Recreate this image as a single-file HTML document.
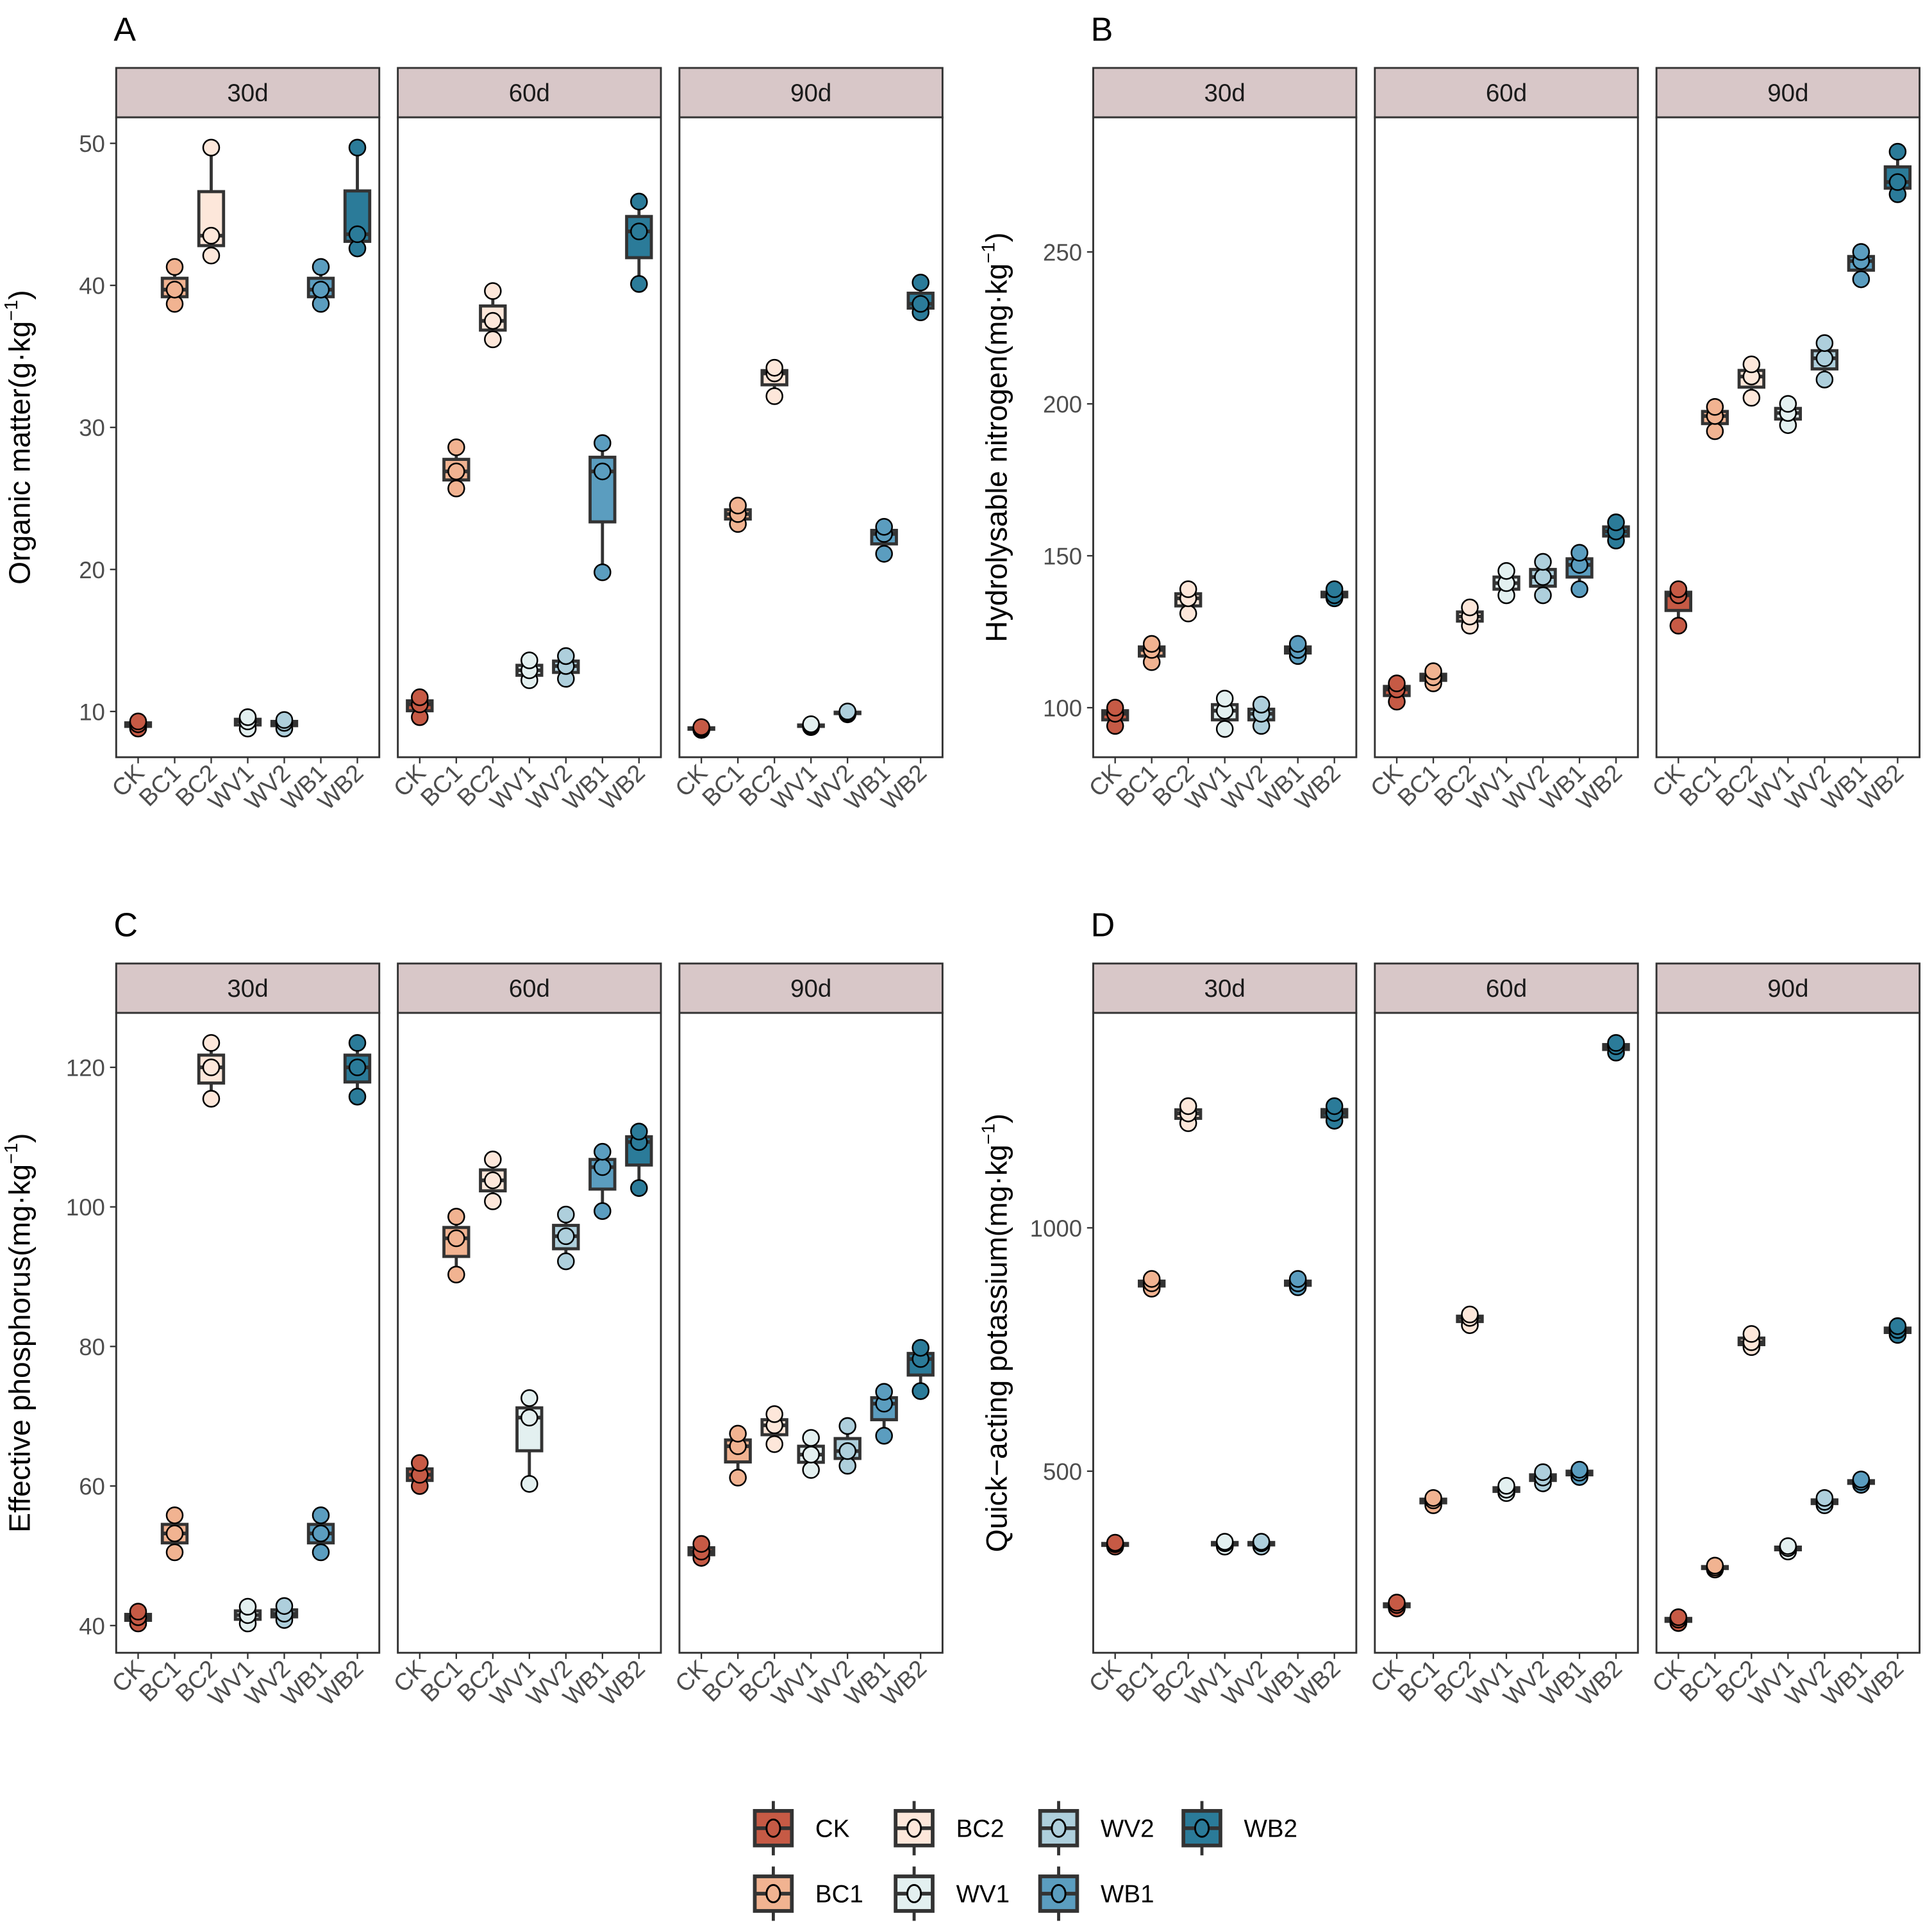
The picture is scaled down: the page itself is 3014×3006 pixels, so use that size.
<!DOCTYPE html>
<html><head><meta charset="utf-8"><style>
html,body{margin:0;padding:0;background:#fff}
svg{display:block}
text{font-family:"Liberation Sans",Arial,sans-serif}
</style></head><body>
<svg id="fig" width="3014" height="3006" viewBox="0 0 1564 1560" xmlns="http://www.w3.org/2000/svg"></svg>
<script>
const groups=["CK","BC1","BC2","WV1","WV2","WB1","WB2"];
const days=["30d","60d","90d"];
const colors=["#c65a45","#f1b391","#fde7da","#e3f0f0","#aecfdc","#5b9dbf","#2b7b99"];
const dataA=[
 [[8.8,9.1,9.3],[38.7,39.7,41.3],[42.1,43.5,49.7],[8.8,9.3,9.6],[8.8,9.2,9.4],[38.7,39.7,41.3],[42.6,43.6,49.7]],
 [[9.6,10.5,11.0],[25.7,26.9,28.6],[36.2,37.5,39.6],[12.2,12.9,13.6],[12.3,13.2,13.9],[19.8,26.9,28.9],[40.1,43.8,45.9]],
 [[8.7,8.8,8.9],[23.2,23.9,24.5],[32.2,33.8,34.2],[8.9,9.0,9.1],[9.8,9.9,10.0],[21.1,22.5,23.0],[38.1,38.7,40.2]]];
const dataB=[
 [[94,98,100],[115,119,121],[131,136,139],[93,99,103],[94,98,101],[117,119,121],[136,137,139]],
 [[102,106,108],[108,110,112],[127,130,133],[137,141,145],[137,143,148],[139,147,151],[155,158,161]],
 [[127,137,139],[191,196,199],[202,209,213],[193,197,200],[208,215,220],[241,247,250],[269,273,283]]];
const dataC=[
 [[40.3,41.2,42],[50.5,53.2,55.8],[115.5,120,123.5],[40.3,41.5,42.7],[40.8,41.7,42.8],[50.5,53.2,55.8],[115.8,120,123.5]],
 [[60,61.6,63.3],[90.3,95.5,98.6],[100.8,103.8,106.8],[60.3,69.8,72.6],[92.2,95.8,98.9],[99.4,105.7,107.9],[102.7,109.3,110.8]],
 [[49.7,50.6,51.7],[61.2,65.7,67.5],[66,68.7,70.3],[62.3,64.5,66.9],[62.9,65,68.6],[67.2,71.8,73.5],[73.6,78.2,79.8]]];
const dataD=[
 [[345,350,353],[875,886,895],[1215,1235,1250],[345,352,355],[345,352,355],[878,886,895],[1220,1236,1250]],
 [[218,225,230],[430,440,445],[800,815,822],[455,462,470],[475,487,498],[488,497,503],[1360,1373,1380]],
 [[188,195,200],[298,302,306],[755,765,782],[335,342,346],[430,437,445],[472,478,483],[780,790,798]]];
const ticksA=[10,20,30,40,50], ticksB=[100,150,200,250], ticksC=[40,60,80,100,120], ticksD=[500,1000];

const NS="http://www.w3.org/2000/svg";
const svg=document.getElementById("fig");
function mk(tag,attrs,parent){const e=document.createElementNS(NS,tag);for(const k in attrs)e.setAttribute(k,attrs[k]);(parent||svg).appendChild(e);return e;}
function q(a,p){const s=[...a].sort((x,y)=>x-y);const h=(s.length-1)*p;const lo=Math.floor(h);return s[lo]+(s[Math.min(lo+1,s.length-1)]-s[lo])*(h-lo);}

const panels=[
 {id:"A",data:dataA,ticks:ticksA,ymin:6.78,ymax:51.83,title:"Organic matter(g·kg",xs:[94,322,550],top:55,letterX:94},
 {id:"B",data:dataB,ticks:ticksB,ymin:83.7,ymax:294.3,title:"Hydrolysable nitrogen(mg·kg",xs:[885,1113,1341],top:55,letterX:885},
 {id:"C",data:dataC,ticks:ticksC,ymin:36.1,ymax:127.8,title:"Effective phosphorus(mg·kg",xs:[94,322,550],top:780,letterX:94},
 {id:"D",data:dataD,ticks:ticksD,ymin:126.9,ymax:1441.6,title:"Quick−acting potassium(mg·kg",xs:[885,1113,1341],top:780,letterX:885}];
const PW=213, SH=40, PH=518;

panels.forEach(P=>{
  const g=mk("g",{});
  
  
  const pt=P.top+SH, pb=pt+PH;
  const yS=v=>pb-(v-P.ymin)/(P.ymax-P.ymin)*PH;
  const lt=mk("text",{x:P.letterX-2,y:P.top-22,"font-size":27,fill:"#000"},g);lt.textContent=P.id;
  
  
  const yt=mk("text",{transform:`translate(${P.xs[0]-70},${pt+PH/2}) rotate(-90)`,"text-anchor":"middle","font-size":24,fill:"#000"},g);
  yt.textContent=P.title;
  const sup=mk("tspan",{"font-size":15,dy:-10},yt);sup.textContent="−1";
  const cl=mk("tspan",{dy:10},yt);cl.textContent=")";
  
  
  P.ticks.forEach(t=>{
    const y=yS(t);
    mk("line",{x1:P.xs[0]-5,x2:P.xs[0],y1:y,y2:y,stroke:"#333","stroke-width":1.2},g);
    const tt=mk("text",{x:P.xs[0]-9,y:y+7,"text-anchor":"end","font-size":19,fill:"#4d4d4d"},g);tt.textContent=t;
    
    
  });
  P.xs.forEach((x0,d)=>{
    const strip=mk("rect",{x:x0,y:P.top,width:PW,height:SH,fill:"#d8c7c8",stroke:"#333","stroke-width":1.5},g);
    
    
    const st=mk("text",{x:x0+PW/2,y:P.top+27,"text-anchor":"middle","font-size":20,fill:"#1a1a1a"},g);st.textContent=days[d];
    
    
    const fr=mk("rect",{x:x0,y:pt,width:PW,height:PH,fill:"#fff",stroke:"#333","stroke-width":1.5},g);
    
    
    const band=PW/7.2;
    groups.forEach((gr,i)=>{
      const cx=x0+(i+0.6)*band;
      mk("line",{x1:cx,x2:cx,y1:pb,y2:pb+5,stroke:"#333","stroke-width":1.2},g);
      const xl=mk("text",{transform:`translate(${cx+6},${pb+14}) rotate(-45)`,"text-anchor":"end","font-size":19.5,fill:"#4d4d4d"},g);xl.textContent=gr;
      
      
      const v=P.data[d][i];
      const q1=q(v,.25),q2=q(v,.5),q3=q(v,.75),mn=Math.min(...v),mx=Math.max(...v);
      const bw=20;
      const bg=mk("g",{},g);
      
      
      mk("line",{x1:cx,x2:cx,y1:yS(mx),y2:yS(q3),stroke:"#333","stroke-width":2.5},bg);
      mk("line",{x1:cx,x2:cx,y1:yS(q1),y2:yS(mn),stroke:"#333","stroke-width":2.5},bg);
      mk("rect",{x:cx-bw/2,y:yS(q3),width:bw,height:Math.max(yS(q1)-yS(q3),0.5),fill:colors[i],stroke:"#333","stroke-width":2.5},bg);
      mk("line",{x1:cx-bw/2,x2:cx+bw/2,y1:yS(q2),y2:yS(q2),stroke:"#333","stroke-width":3},bg);
      v.forEach(val=>{
        const c=mk("circle",{cx:cx,cy:yS(val),r:6.5,fill:colors[i],stroke:"#000","stroke-width":1.3},bg);
        
        
      });
    });
  });
});

const leg=mk("g",{});


const legPos=[[610,1480],[610,1533],[724,1480],[724,1533],[841,1480],[841,1533],[957,1480]];
groups.forEach((gr,i)=>{
  const [x,y]=legPos[i];
  const e=mk("g",{},leg);
  
  
  mk("line",{x1:x+16,x2:x+16,y1:y-22,y2:y+22,stroke:"#333","stroke-width":2.5},e);
  mk("rect",{x:x+1,y:y-14,width:30,height:28,fill:colors[i],stroke:"#333","stroke-width":3},e);
  mk("line",{x1:x+1,x2:x+31,y1:y,y2:y,stroke:"#333","stroke-width":3},e);
  mk("ellipse",{cx:x+16,cy:y,rx:5.5,ry:7,fill:colors[i],stroke:"#000","stroke-width":1.5},e);
  const t=mk("text",{x:x+50,y:y+7,"font-size":20,fill:"#000"},e);t.textContent=gr;
});
</script>
</body></html>
